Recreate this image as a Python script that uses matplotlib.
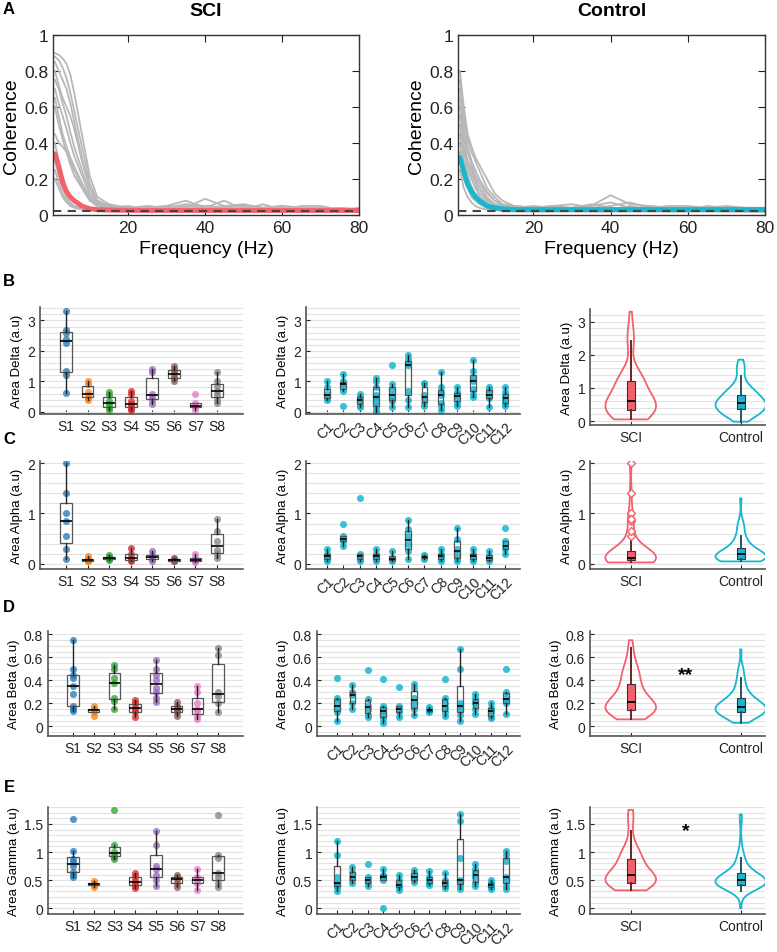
import numpy as np
import matplotlib
matplotlib.use('Agg')
import matplotlib.pyplot as plt
from matplotlib.ticker import MultipleLocator, FuncFormatter

plt.rcParams['font.family'] = ['Liberation Sans', 'DejaVu Sans']

W, H = 777, 953

# ---- panel A: coherence spectra ----
freq = [1, 2, 3, 4, 5, 6, 8, 10, 12, 15, 20, 25, 30, 35, 40, 45, 50, 55, 60, 65, 70, 75, 80]
sci_curves = [
    [0.90, 0.89, 0.87, 0.84, 0.78, 0.68, 0.45, 0.22, 0.10, 0.06, 0.04, 0.05, 0.04, 0.06, 0.05, 0.04, 0.05, 0.04, 0.05, 0.04, 0.03, 0.04, 0.03],
    [0.88, 0.86, 0.82, 0.76, 0.68, 0.58, 0.38, 0.18, 0.08, 0.05, 0.04, 0.04, 0.05, 0.04, 0.09, 0.05, 0.05, 0.04, 0.04, 0.03, 0.03, 0.03, 0.03],
    [0.85, 0.80, 0.75, 0.70, 0.62, 0.52, 0.32, 0.15, 0.08, 0.05, 0.03, 0.04, 0.05, 0.08, 0.04, 0.05, 0.06, 0.04, 0.05, 0.04, 0.04, 0.03, 0.04],
    [0.80, 0.72, 0.65, 0.60, 0.55, 0.48, 0.30, 0.15, 0.07, 0.04, 0.03, 0.03, 0.04, 0.05, 0.04, 0.08, 0.03, 0.03, 0.03, 0.05, 0.05, 0.03, 0.03],
    [0.75, 0.70, 0.62, 0.55, 0.46, 0.38, 0.25, 0.12, 0.06, 0.04, 0.03, 0.05, 0.03, 0.03, 0.04, 0.03, 0.03, 0.04, 0.04, 0.03, 0.03, 0.04, 0.03],
    [0.70, 0.62, 0.55, 0.48, 0.40, 0.33, 0.22, 0.12, 0.06, 0.04, 0.05, 0.03, 0.03, 0.04, 0.03, 0.03, 0.04, 0.03, 0.03, 0.03, 0.03, 0.02, 0.02],
    [0.65, 0.55, 0.45, 0.38, 0.32, 0.27, 0.18, 0.10, 0.06, 0.05, 0.03, 0.03, 0.04, 0.03, 0.05, 0.04, 0.03, 0.06, 0.03, 0.04, 0.04, 0.03, 0.03],
    [0.60, 0.50, 0.42, 0.35, 0.28, 0.22, 0.15, 0.08, 0.05, 0.04, 0.03, 0.03, 0.03, 0.03, 0.03, 0.03, 0.03, 0.03, 0.03, 0.03, 0.03, 0.03, 0.03],
    [0.45, 0.40, 0.38, 0.35, 0.30, 0.25, 0.16, 0.09, 0.05, 0.03, 0.03, 0.04, 0.03, 0.03, 0.03, 0.03, 0.03, 0.03, 0.03, 0.03, 0.03, 0.03, 0.03],
    [0.40, 0.30, 0.22, 0.15, 0.10, 0.07, 0.05, 0.04, 0.03, 0.03, 0.03, 0.03, 0.04, 0.03, 0.03, 0.03, 0.03, 0.03, 0.03, 0.03, 0.03, 0.03, 0.03],
    [0.30, 0.22, 0.15, 0.10, 0.07, 0.05, 0.04, 0.03, 0.03, 0.03, 0.03, 0.03, 0.03, 0.03, 0.03, 0.02, 0.02, 0.03, 0.03, 0.02, 0.03, 0.03, 0.02],
    [0.25, 0.18, 0.12, 0.08, 0.06, 0.05, 0.04, 0.03, 0.03, 0.03, 0.02, 0.02, 0.03, 0.02, 0.02, 0.02, 0.02, 0.02, 0.02, 0.02, 0.02, 0.02, 0.02],
    [0.20, 0.15, 0.10, 0.07, 0.05, 0.04, 0.03, 0.03, 0.02, 0.02, 0.02, 0.02, 0.02, 0.02, 0.02, 0.02, 0.02, 0.02, 0.02, 0.02, 0.02, 0.02, 0.02],
]
sci_mean = [0.34, 0.27, 0.18, 0.13, 0.10, 0.08, 0.05, 0.035, 0.03, 0.028, 0.026, 0.025, 0.025, 0.025, 0.025, 0.025, 0.025, 0.025, 0.025, 0.025, 0.025, 0.025, 0.025]
ctrl_curves = [
    [0.80, 0.60, 0.45, 0.38, 0.32, 0.28, 0.20, 0.12, 0.08, 0.05, 0.04, 0.05, 0.04, 0.05, 0.07, 0.04, 0.04, 0.03, 0.04, 0.03, 0.03, 0.03, 0.03],
    [0.75, 0.55, 0.42, 0.35, 0.30, 0.25, 0.15, 0.10, 0.06, 0.05, 0.04, 0.04, 0.04, 0.05, 0.11, 0.06, 0.05, 0.04, 0.04, 0.04, 0.05, 0.04, 0.04],
    [0.70, 0.50, 0.38, 0.30, 0.25, 0.20, 0.13, 0.08, 0.06, 0.05, 0.04, 0.05, 0.06, 0.04, 0.05, 0.07, 0.04, 0.05, 0.05, 0.04, 0.04, 0.04, 0.04],
    [0.65, 0.45, 0.35, 0.28, 0.22, 0.18, 0.12, 0.08, 0.05, 0.04, 0.05, 0.04, 0.04, 0.06, 0.04, 0.03, 0.05, 0.04, 0.03, 0.05, 0.04, 0.04, 0.03],
    [0.60, 0.42, 0.30, 0.25, 0.20, 0.16, 0.10, 0.06, 0.05, 0.04, 0.03, 0.03, 0.04, 0.03, 0.03, 0.05, 0.03, 0.03, 0.04, 0.03, 0.03, 0.03, 0.03],
    [0.55, 0.38, 0.28, 0.22, 0.18, 0.14, 0.09, 0.06, 0.04, 0.03, 0.03, 0.03, 0.03, 0.03, 0.04, 0.03, 0.03, 0.03, 0.03, 0.03, 0.03, 0.03, 0.03],
    [0.50, 0.35, 0.25, 0.20, 0.15, 0.12, 0.08, 0.05, 0.04, 0.03, 0.03, 0.03, 0.03, 0.03, 0.03, 0.03, 0.03, 0.03, 0.03, 0.03, 0.02, 0.02, 0.02],
    [0.45, 0.30, 0.22, 0.16, 0.12, 0.10, 0.07, 0.05, 0.04, 0.03, 0.03, 0.03, 0.03, 0.03, 0.03, 0.03, 0.03, 0.03, 0.03, 0.03, 0.03, 0.03, 0.03],
    [0.40, 0.28, 0.20, 0.14, 0.10, 0.08, 0.06, 0.04, 0.03, 0.03, 0.03, 0.03, 0.03, 0.03, 0.03, 0.03, 0.03, 0.03, 0.03, 0.03, 0.03, 0.03, 0.03],
    [0.35, 0.25, 0.30, 0.26, 0.18, 0.10, 0.06, 0.04, 0.03, 0.03, 0.02, 0.02, 0.03, 0.02, 0.02, 0.03, 0.03, 0.02, 0.02, 0.03, 0.03, 0.02, 0.02],
    [0.30, 0.20, 0.15, 0.10, 0.08, 0.06, 0.04, 0.03, 0.03, 0.02, 0.02, 0.02, 0.02, 0.02, 0.02, 0.02, 0.02, 0.02, 0.02, 0.02, 0.02, 0.02, 0.02],
    [0.25, 0.15, 0.10, 0.07, 0.05, 0.04, 0.03, 0.03, 0.02, 0.02, 0.02, 0.02, 0.02, 0.02, 0.02, 0.02, 0.02, 0.02, 0.02, 0.02, 0.02, 0.02, 0.02],
]
ctrl_mean = [0.32, 0.24, 0.17, 0.13, 0.10, 0.08, 0.05, 0.04, 0.035, 0.03, 0.03, 0.03, 0.03, 0.03, 0.03, 0.03, 0.03, 0.03, 0.03, 0.03, 0.03, 0.03, 0.03]
noise_level = 0.02

# ---- panels B-E: band areas per subject ----
subjects = ['S1', 'S2', 'S3', 'S4', 'S5', 'S6', 'S7', 'S8']
controls = ['C1', 'C2', 'C3', 'C4', 'C5', 'C6', 'C7', 'C8', 'C9', 'C10', 'C11', 'C12']

delta_sci = [
    [3.3, 2.7, 2.6, 2.4, 2.25, 1.35, 1.2, 0.62],
    [1.0, 0.9, 0.65, 0.55, 0.45, 0.4],
    [0.65, 0.55, 0.35, 0.25, 0.15, 0.05],
    [0.7, 0.6, 0.35, 0.25, 0.2, 0.1, 0.05],
    [1.4, 1.3, 0.6, 0.5, 0.4, 0.25],
    [1.5, 1.4, 1.3, 1.2, 1.1, 1.0],
    [0.6, 0.3, 0.2, 0.15, 0.05],
    [1.3, 1.0, 0.85, 0.7, 0.55, 0.4, 0.3],
]
delta_ctrl = [
    [1.0, 0.8, 0.6, 0.5, 0.45, 0.4],
    [1.25, 1.0, 0.92, 0.88, 0.7, 0.2],
    [0.6, 0.5, 0.45, 0.4, 0.3, 0.2, 0.15],
    [1.1, 1.0, 0.8, 0.55, 0.5, 0.35, 0.2, 0.05, -0.02],
    [1.55, 0.9, 0.75, 0.55, 0.4, 0.35, 0.15],
    [1.85, 1.75, 1.6, 1.55, 0.7, 0.4, 0.15],
    [0.95, 0.9, 0.55, 0.45, 0.3, 0.2],
    [1.3, 0.8, 0.65, 0.55, 0.3, 0.2, 0.05],
    [0.8, 0.65, 0.55, 0.5, 0.3, 0.2],
    [1.7, 1.35, 1.1, 1.0, 0.75, 0.6, 0.5],
    [0.8, 0.75, 0.6, 0.5, 0.45, 0.15],
    [0.8, 0.65, 0.55, 0.45, 0.35, 0.25, 0.2],
]
alpha_sci = [
    [2.0, 1.4, 1.0, 0.85, 0.55, 0.3, 0.1],
    [0.15, 0.1, 0.08, 0.06, 0.05],
    [0.18, 0.14, 0.12, 0.1, 0.08],
    [0.32, 0.2, 0.12, 0.08, 0.05],
    [0.25, 0.18, 0.14, 0.1, 0.05],
    [0.12, 0.1, 0.08, 0.06, 0.05],
    [0.2, 0.12, 0.08, 0.05, 0.03],
    [0.9, 0.65, 0.45, 0.28, 0.2, 0.12],
]
alpha_ctrl = [
    [0.3, 0.2, 0.15, 0.1, 0.05],
    [0.8, 0.55, 0.5, 0.45, 0.35],
    [1.3, 0.2, 0.15, 0.1, 0.05],
    [0.3, 0.2, 0.15, 0.1, 0.05],
    [0.25, 0.12, 0.08, 0.05],
    [0.88, 0.7, 0.55, 0.4, 0.25, 0.1],
    [0.18, 0.15, 0.12, 0.1],
    [0.3, 0.2, 0.15, 0.1, 0.05],
    [0.72, 0.5, 0.3, 0.2, 0.1, 0.05],
    [0.3, 0.2, 0.15, 0.1, 0.05],
    [0.25, 0.15, 0.1, 0.05],
    [0.72, 0.45, 0.35, 0.3, 0.2],
]
beta_sci = [
    [0.75, 0.5, 0.45, 0.42, 0.35, 0.28, 0.18, 0.15, 0.13],
    [0.18, 0.15, 0.14, 0.14, 0.12, 0.09],
    [0.53, 0.5, 0.42, 0.38, 0.25, 0.22, 0.15],
    [0.23, 0.2, 0.17, 0.14, 0.12, 0.08],
    [0.58, 0.5, 0.45, 0.4, 0.33, 0.3, 0.25, 0.21],
    [0.21, 0.18, 0.16, 0.14, 0.12, 0.09],
    [0.35, 0.3, 0.2, 0.15, 0.13, 0.09, 0.06],
    [0.68, 0.62, 0.3, 0.26, 0.2, 0.12],
]
beta_ctrl = [
    [0.42, 0.25, 0.2, 0.16, 0.12, 0.05],
    [0.36, 0.3, 0.27, 0.2, 0.15],
    [0.49, 0.24, 0.18, 0.15, 0.1, 0.08],
    [0.41, 0.18, 0.15, 0.13, 0.1, 0.06, 0.03],
    [0.34, 0.18, 0.15, 0.12, 0.08],
    [0.37, 0.33, 0.25, 0.2, 0.15, 0.1],
    [0.17, 0.15, 0.14, 0.13, 0.12],
    [0.41, 0.25, 0.2, 0.16, 0.12, 0.09],
    [0.67, 0.5, 0.2, 0.18, 0.15, 0.1, 0.05],
    [0.28, 0.25, 0.21, 0.2, 0.15, 0.11],
    [0.2, 0.16, 0.14, 0.12, 0.08, 0.07],
    [0.5, 0.3, 0.25, 0.22, 0.2, 0.11],
]
gamma_sci = [
    [1.58, 1.02, 0.88, 0.83, 0.75, 0.65, 0.6, 0.55],
    [0.48, 0.45, 0.43, 0.42, 0.38],
    [1.75, 1.13, 1.0, 0.95, 0.92, 0.88],
    [0.62, 0.58, 0.5, 0.45, 0.4, 0.37],
    [1.37, 1.13, 0.75, 0.7, 0.6, 0.5, 0.4],
    [0.6, 0.55, 0.52, 0.45, 0.38],
    [0.7, 0.55, 0.5, 0.45, 0.32],
    [1.65, 0.95, 0.9, 0.62, 0.55, 0.45, 0.38],
]
gamma_ctrl = [
    [1.2, 0.94, 0.55, 0.45, 0.4, 0.38, 0.3],
    [0.74, 0.65, 0.55, 0.5, 0.45],
    [0.79, 0.55, 0.5, 0.45, 0.4],
    [0.7, 0.6, 0.58, 0.55, 0.5, 0.0],
    [0.6, 0.5, 0.42, 0.38, 0.33],
    [0.68, 0.62, 0.55, 0.5, 0.47],
    [0.67, 0.55, 0.5, 0.45, 0.42],
    [0.62, 0.5, 0.45, 0.4, 0.36],
    [1.67, 1.55, 0.9, 0.5, 0.45, 0.4, 0.35],
    [0.78, 0.7, 0.62, 0.55, 0.45, 0.4],
    [0.5, 0.45, 0.42, 0.38, 0.34],
    [1.01, 0.95, 0.85, 0.55, 0.5, 0.4, 0.35],
]
band_names = ['Delta', 'Alpha', 'Beta', 'Gamma']
significance = ['', '', '**', '*']

subj_colors = ['#1f77b4', '#ff7f0e', '#2ca02c', '#d62728', '#9467bd', '#8c564b', '#e377c2', '#7f7f7f']
sci_color = '#f4606c'
ctrl_color = '#17b7cf'

fig = plt.figure(figsize=(W / 100, H / 100), dpi=100)


def add_ax(x0, y0, x1, y1):
    return fig.add_axes([x0 / W, 1 - y1 / H, (x1 - x0) / W, (y1 - y0) / H])


fmt = FuncFormatter(lambda v, p: '%g' % round(v, 3))

# ---------------- panel A ----------------
for (x0, x1), curves, mean, col, title in [((53, 359), sci_curves, sci_mean, sci_color, 'SCI'),
                                            ((458, 765), ctrl_curves, ctrl_mean, ctrl_color, 'Control')]:
    ax = add_ax(x0, 36, x1, 216)
    for c in curves:
        ax.plot(freq, c, color='#b8b8b8', lw=1.3)
    ax.plot(freq, mean, color=col, lw=3.5, solid_capstyle='round')
    ax.axhline(noise_level, color='#444444', lw=1.5, ls=(0, (4, 3)))
    ax.set_xlim(0.5, 80)
    ax.set_ylim(0, 1)
    ax.set_xticks([20, 40, 60, 80])
    ax.set_yticks([0, 0.2, 0.4, 0.6, 0.8, 1])
    ax.yaxis.set_major_formatter(fmt)
    ax.tick_params(direction='in', top=True, right=True, length=5, labelsize=12.5, colors='#222222')
    for s in ax.spines.values():
        s.set_color('#333333')
        s.set_linewidth(1)
    ax.set_xlabel('Frequency (Hz)', fontsize=14, labelpad=4)
    ax.set_ylabel('Coherence', fontsize=14, labelpad=3)
    fig.text((x0 + x1) / 2 / W, 1 - 12 / H, title, fontsize=14, fontweight='bold', ha='center', va='center')

fig.text(9 / W, 1 - 10 / H, 'A', fontsize=12, fontweight='bold', ha='center', va='center')

# ---------------- panels B-E ----------------
rows = [
    dict(sci=delta_sci, ctrl=delta_ctrl, ylim=(-0.07, 3.44), vlim=(-0.12, 3.38), major=1, minor=0.2,
         y0=308, y1=415, vy0=310, vy1=426, left=40, mid=306, letter='B', ly=282, star_y=0),
    dict(sci=alpha_sci, ctrl=alpha_ctrl, ylim=(-0.1, 2.04), vlim=(-0.1, 2.04), major=1, minor=0.2,
         y0=462, y1=570, vy0=462, vy1=570, left=40, mid=306, letter='C', ly=440, star_y=0),
    dict(sci=beta_sci, ctrl=beta_ctrl, ylim=(-0.085, 0.83), vlim=(-0.085, 0.83), major=0.2, minor=0.05,
         y0=632, y1=737, vy0=632, vy1=737, left=48, mid=317, letter='D', ly=607, star_y=0.45),
    dict(sci=gamma_sci, ctrl=gamma_ctrl, ylim=(-0.1, 1.8), vlim=(-0.1, 1.8), major=0.5, minor=0.1,
         y0=808, y1=915, vy0=808, vy1=915, left=48, mid=317, letter='E', ly=788, star_y=1.38),
]


def style(ax, r, ylabel, ylim):
    ax.set_ylim(ylim)
    ax.yaxis.set_major_locator(MultipleLocator(r['major']))
    ax.yaxis.set_minor_locator(MultipleLocator(r['minor']))
    ax.yaxis.set_major_formatter(fmt)
    ax.grid(axis='y', which='both', color='#e2e2e2', lw=0.8)
    ax.set_axisbelow(True)
    for s in ['top', 'right']:
        ax.spines[s].set_visible(False)
    for s in ['left', 'bottom']:
        ax.spines[s].set_color('#555555')
        ax.spines[s].set_linewidth(1.2)
    ax.tick_params(direction='in', length=3, labelsize=10, colors='#222222')
    ax.tick_params(which='minor', length=0)
    ax.set_ylabel(ylabel, fontsize=9.5, labelpad=3)


def boxes(ax, data, pos, width, fill):
    ax.boxplot(data, positions=pos, widths=width, whis=1.5, showfliers=False, showcaps=False,
               patch_artist=True, manage_ticks=False,
               boxprops=dict(facecolor=fill, edgecolor='#555555', lw=0.9),
               medianprops=dict(color='black', lw=1.2),
               whiskerprops=dict(color='#222222', lw=1))


for i, r in enumerate(rows):
    ylabel = 'Area %s (a.u)' % band_names[i]

    # SCI subjects
    ax = add_ax(r['left'], r['y0'], 243, r['y1'])
    pos = np.arange(1, len(subjects) + 1)
    for p, vals, c in zip(pos, r['sci'], subj_colors):
        ax.scatter([p] * len(vals), vals, s=26, color=c, alpha=0.75, lw=0, zorder=2)
    boxes(ax, r['sci'], pos, 0.55, 'none')
    ax.set_xlim(-0.2, 9.2)
    ax.set_xticks(pos)
    ax.set_xticklabels(subjects, fontsize=10.5)
    style(ax, r, ylabel, r['ylim'])

    # controls
    ax = add_ax(r['mid'], r['y0'], 520, r['y1'])
    pos = np.arange(1, len(controls) + 1)
    for p, vals in zip(pos, r['ctrl']):
        ax.scatter([p] * len(vals), vals, s=26, color=ctrl_color, alpha=0.85, lw=0, zorder=2)
    boxes(ax, r['ctrl'], pos, 0.35, 'none')
    ax.set_xlim(-0.3, 12.9)
    ax.set_xticks(pos)
    ax.set_xticklabels(controls, fontsize=10, rotation=45, ha='right', va='top', rotation_mode='anchor')
    style(ax, r, ylabel, r['ylim'])

    # violins of pooled data
    ax = add_ax(590, r['vy0'], 765, r['vy1'])
    pooled = [np.concatenate(r['sci']), np.concatenate(r['ctrl'])]
    vp = ax.violinplot(pooled, positions=[1, 2], widths=0.46, showextrema=False)
    for body, c in zip(vp['bodies'], [sci_color, ctrl_color]):
        body.set_facecolor('none')
        body.set_edgecolor(c)
        body.set_linewidth(1.3)
        body.set_alpha(1)
    for p, data, c, wc in [(1, pooled[0], sci_color, '#6b2424'), (2, pooled[1], ctrl_color, '#24565e')]:
        ax.boxplot([data], positions=[p], widths=0.075, whis=1.5, showfliers=(i == 1 and p == 1),
                   showcaps=False, patch_artist=True, manage_ticks=False,
                   boxprops=dict(facecolor=c, edgecolor='#333333', lw=0.8),
                   medianprops=dict(color='black', lw=1.3),
                   whiskerprops=dict(color=wc, lw=1.4),
                   flierprops=dict(marker='D', markersize=4, markerfacecolor='white',
                                   markeredgecolor=c))
    ax.set_xlim(0.63, 2.22)
    ax.set_xticks([1, 2])
    ax.set_xticklabels(['SCI', 'Control'], fontsize=10.5)
    style(ax, r, ylabel, r['vlim'])
    if significance[i]:
        ax.text(1.5, r['star_y'], significance[i], fontsize=14, fontweight='bold',
                ha='center', va='center')

    fig.text(9 / W, 1 - r['ly'] / H, r['letter'], fontsize=12, fontweight='bold', ha='center', va='center')

fig.savefig('out.png', dpi=100)
